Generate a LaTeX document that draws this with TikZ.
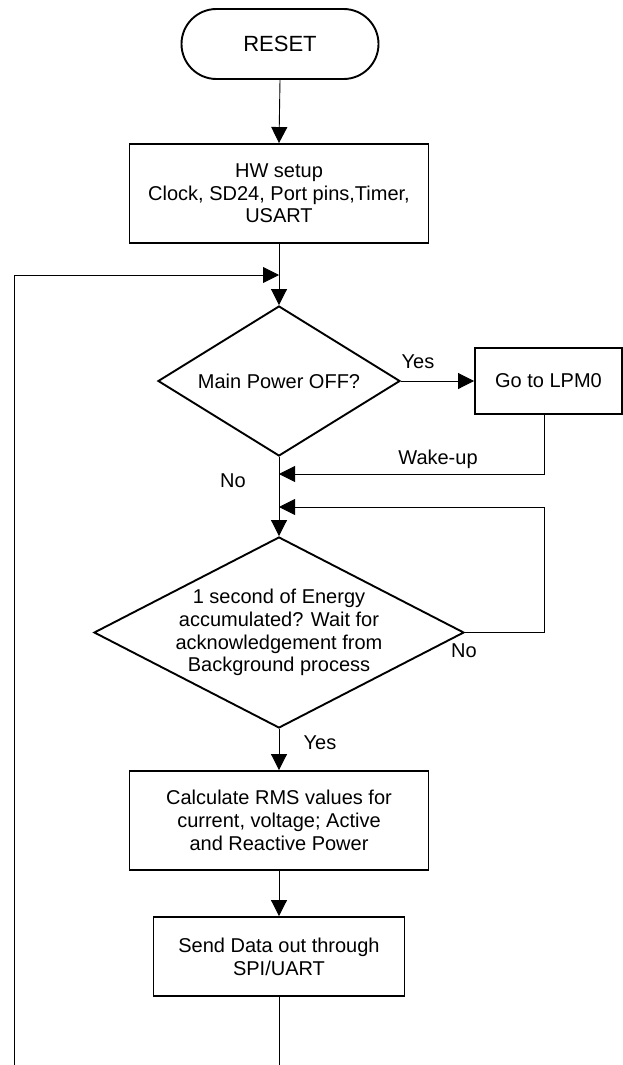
\documentclass[tikz,border=0pt]{standalone}
\usepackage{fontspec}
\setmainfont{Liberation Sans}
\usetikzlibrary{shapes.geometric,arrows.meta}
\begin{document}
\begin{tikzpicture}[x=1pt,y=-1pt,
  txt/.style={font=\fontsize{20}{22.7}\selectfont},
  box/.style={draw,line width=1.9pt,rectangle,inner sep=0pt,align=center,txt},
  dia/.style={draw,line width=1.9pt,diamond,inner sep=0pt,shape aspect=1},
  conn/.style={line width=0.9pt,-{Triangle[length=16pt,width=16pt]}},
  plain/.style={line width=0.9pt},
  lbl/.style={txt,inner sep=0pt}]
\useasboundingbox (0,0) rectangle (623,1065);

% nodes
\node[box,rounded corners=35pt,minimum width=197pt,minimum height=70pt,font=\fontsize{22}{24}\selectfont] (reset) at (280,44) {RESET};
\node[box,minimum width=299pt,minimum height=99pt] (hw) at (279,193.5) {HW setup\\Clock, SD24, Port pins,Timer,\\USART};
\node[dia,minimum width=242pt,minimum height=150pt,label={[lbl]center:Main Power OFF?}] (d1) at (279,381) {};
\node[box,minimum width=147pt,minimum height=66pt] (lpm) at (548.5,381) {Go to LPM0};
\node[dia,minimum width=370pt,minimum height=191pt,label={[lbl,align=center]center:1 second of Energy\\accumulated? Wait for\\acknowledgement from\\Background process}] (d2) at (279,632.5) {};
\node[box,minimum width=299pt,minimum height=99pt] (calc) at (279,820.5) {Calculate RMS values for\\current, voltage; Active\\and Reactive Power};
\node[box,minimum width=251pt,minimum height=79pt] (send) at (279,956.5) {Send Data out through\\SPI/UART};

% helper coordinates
\coordinate (j0) at (279,275);
\coordinate (wk) at (279,474);
\coordinate (lp) at (279,507);
\coordinate (botR) at (279,1065);
\coordinate (botL) at (14,1065);
\coordinate (topL) at (14,275);
\coordinate (wkR) at (544,474);
\coordinate (lpR) at (544,507);
\coordinate (d2R) at (544,632.5);

% connectors
\draw[conn] (reset.south) -- (hw.north);
\draw[conn] (hw.south) -- (d1.north);
\draw[conn] (botL) -- (topL) -- (j0);
\draw[conn] (d1.east) -- (lpm.west);
\draw[conn] (lpm.south -| wkR) -- (wkR) -- (wk);
\draw[conn] (d1.south) -- (d2.north);
\draw[conn] (d2.east) -- (d2R) -- (lpR) -- (lp);
\draw[conn] (d2.south) -- (calc.north);
\draw[conn] (calc.south) -- (send.north);
\draw[plain] (send.south) -- (botR);

% labels
\node[lbl] (yes1) at (418,362) {Yes};
\node[lbl] (wake) at (438,459) {Wake-up};
\node[lbl] (no1) at (233,481) {No};
\node[lbl] (no2) at (464,651) {No};
\node[lbl] (yes2) at (320,743) {Yes};
\end{tikzpicture}
\end{document}
